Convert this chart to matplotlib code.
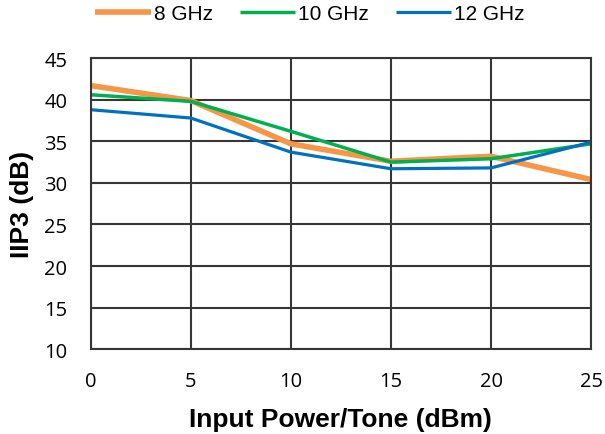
import matplotlib
matplotlib.use("Agg")
import matplotlib.pyplot as plt

plt.rcParams['font.family'] = ['Liberation Sans', 'DejaVu Sans']

x = [0, 5, 10, 15, 20, 25]
ghz8 = [41.7, 39.9, 34.7, 32.6, 33.2, 30.4]
ghz10 = [40.6, 39.8, 36.2, 32.5, 32.9, 34.7]
ghz12 = [38.8, 37.8, 33.7, 31.7, 31.8, 34.9]
labels = ["8 GHz", "10 GHz", "12 GHz"]
xticks = [0, 5, 10, 15, 20, 25]
yticks = [10, 15, 20, 25, 30, 35, 40, 45]

fig = plt.figure(figsize=(6.05, 4.35), dpi=100)
ax = fig.add_axes([0.150, 0.195, 0.827, 0.669])
ax.plot(x, ghz8, color="#F79646", lw=4.0, label=labels[0], solid_capstyle="butt")
ax.plot(x, ghz10, color="#00B050", lw=2.5, label=labels[1], solid_capstyle="butt")
ax.plot(x, ghz12, color="#0070C0", lw=2.3, label=labels[2], solid_capstyle="butt")

ax.set_xlim(0, 25)
ax.set_ylim(10, 45)
tick_font = dict(fontfamily=["Open Sans", "DejaVu Sans"], fontsize=14.5)
ax.set_xticks(xticks, [str(v) for v in xticks], **tick_font)
ax.set_yticks(yticks, [str(v) for v in yticks], **tick_font)
ax.grid(True, color="#363636", lw=1.5)
ax.set_axisbelow(True)
for s in ax.spines.values():
    s.set_color("#363636")
    s.set_linewidth(1.5)
ax.tick_params(length=0)
ax.tick_params(axis="y", pad=17)
ax.tick_params(axis="x", pad=16)

ax.set_xlabel("Input Power/Tone (dBm)", fontsize=19, fontweight="bold", va="baseline")
ax.xaxis.set_label_coords(0.5, -77 / 291)
ax.set_ylabel("IIP3 (dB)", fontsize=19, fontweight="bold", va="center")
ax.yaxis.set_label_coords((22 - 91) / 500, 0.5)

fig.legend(loc="center", bbox_to_anchor=(310 / 605, 1 - 15 / 435), ncol=3, frameon=False,
           fontsize=15, handlelength=2.65, handletextpad=0.15, columnspacing=1.3,
           borderpad=0, borderaxespad=0)

fig.savefig("out.png", dpi=100)
